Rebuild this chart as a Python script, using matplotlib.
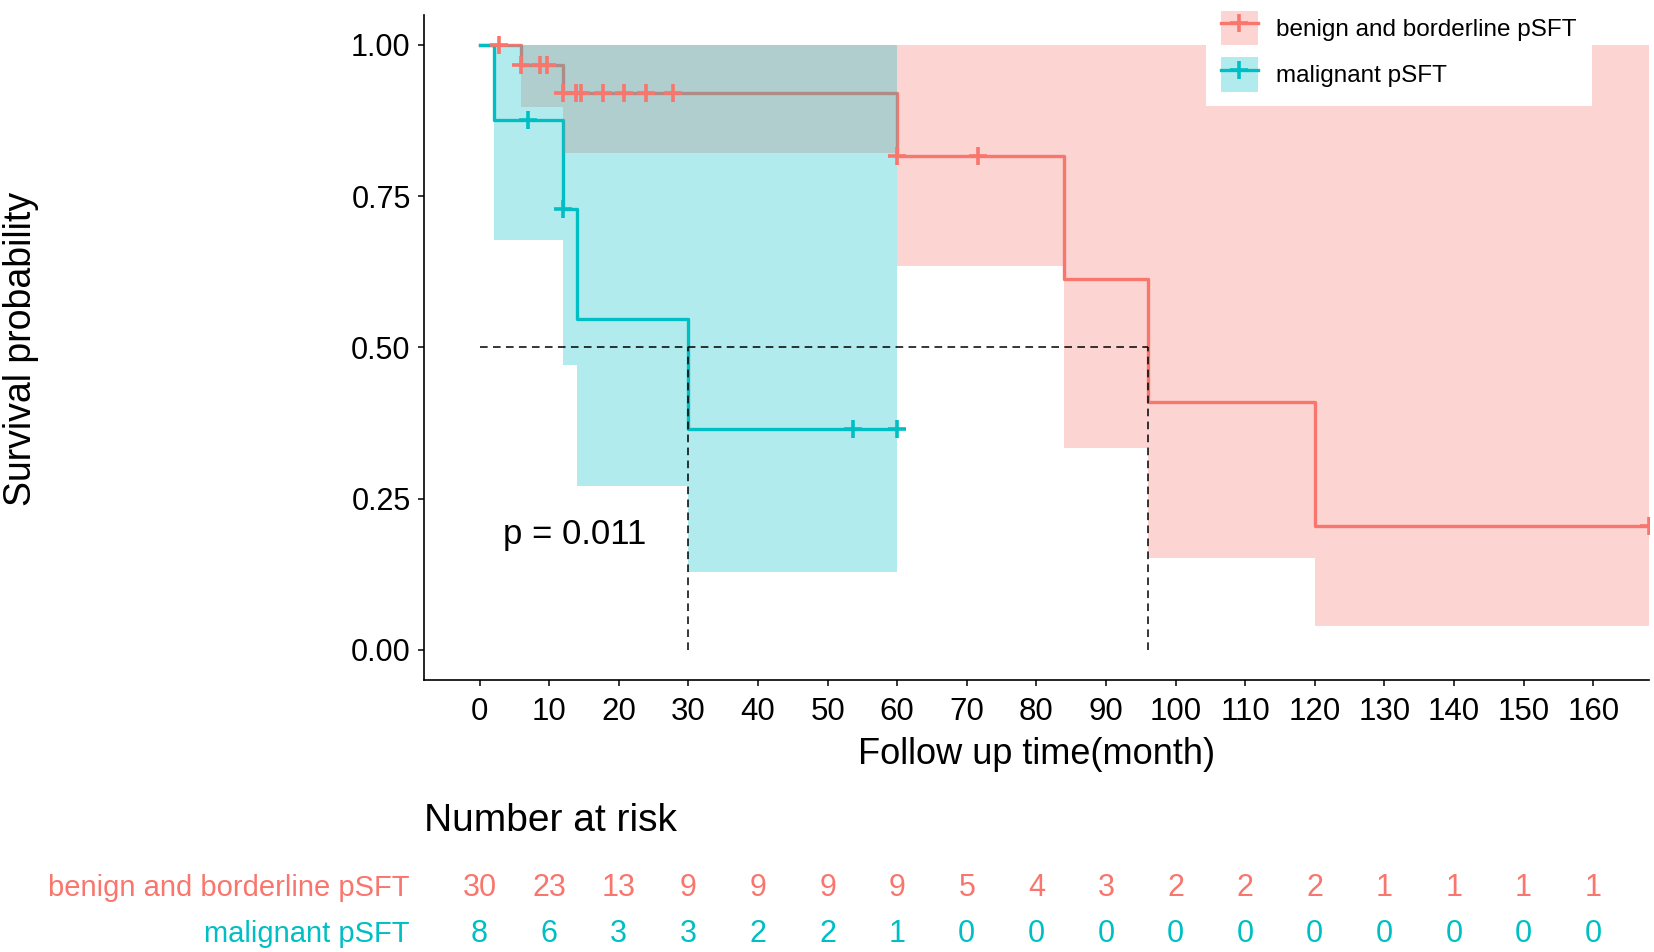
import numpy as np
import matplotlib.pyplot as plt
import matplotlib.transforms as mtransforms
from matplotlib.patches import Patch
from matplotlib.lines import Line2D
from matplotlib.legend_handler import HandlerTuple

plt.rcParams['font.family'] = ['Liberation Sans', 'DejaVu Sans']

RED = '#F8766D'
CYAN = '#00BFC4'

# Kaplan-Meier curves (time in months)
benign_time = [0, 6, 12, 60, 84, 96, 120, 168]
benign_surv = [1.0, 0.966, 0.921, 0.817, 0.613, 0.409, 0.205, 0.205]
benign_lower = [1.0, 0.897, 0.821, 0.634, 0.333, 0.152, 0.040, 0.040]
benign_upper = [1.0, 1.0, 1.0, 1.0, 1.0, 1.0, 1.0, 1.0]
benign_censor = [2.8, 6, 8.7, 9.7, 12, 13.8, 14.6, 17.8, 20.8, 23.9, 27.8, 60, 71.6, 168]

malig_time = [0, 2, 12, 14, 30, 60]
malig_surv = [1.0, 0.875, 0.729, 0.547, 0.365, 0.365]
malig_lower = [1.0, 0.678, 0.470, 0.270, 0.129, 0.129]
malig_upper = [1.0, 1.0, 1.0, 1.0, 1.0, 1.0]
malig_censor = [7, 12, 53.7, 60]

# medians
median_times = [30, 96]

# number at risk table
risk_times = list(range(0, 161, 10))
benign_risk = [30, 23, 13, 9, 9, 9, 9, 5, 4, 3, 2, 2, 2, 1, 1, 1, 1]
malig_risk = [8, 6, 3, 3, 2, 2, 1, 0, 0, 0, 0, 0, 0, 0, 0, 0, 0]

labels = ['benign and borderline pSFT', 'malignant pSFT']
pval_text = 'p = 0.011'


def step_value(times, surv, t):
    idx = np.searchsorted(times, t, side='right') - 1
    return np.asarray(surv)[idx]


fig = plt.figure(figsize=(16.54, 9.52), dpi=100)
ax = fig.add_axes([0.2563, 0.2857, 0.7406, 0.699])

groups = [
    (benign_time, benign_surv, benign_lower, benign_upper, benign_censor, RED),
    (malig_time, malig_surv, malig_lower, malig_upper, malig_censor, CYAN),
]

# lines first, then the bands over them, then censor marks
for t, s, lo, up, cens, c in groups:
    ax.step(t, s, where='post', color=c, lw=2.4, zorder=2)
for t, s, lo, up, cens, c in groups:
    ax.fill_between(t, lo, up, step='post', color=c, alpha=0.3, lw=0, zorder=3)
for t, s, lo, up, cens, c in groups:
    ax.plot(cens, step_value(t, s, cens), ls='none', marker='+', ms=13, mew=2.6,
            color=c, zorder=4)

# median lines
ax.plot([0, max(median_times)], [0.5, 0.5], color='black', lw=1.1,
        ls=(0, (5, 3.5)), zorder=5)
for m in median_times:
    ax.plot([m, m], [0, 0.5], color='black', lw=1.1, ls=(0, (5, 3.5)), zorder=5)

ax.text(3.4, 0.19, pval_text, fontsize=25, ha='left', va='center')

ax.set_xlim(-8, 168)
ax.set_ylim(-0.05, 1.05)
ax.set_xticks(risk_times)
ax.set_xticklabels([str(v) for v in risk_times], fontsize=22.5)
ax.set_yticks([0, 0.25, 0.5, 0.75, 1.0])
ax.set_yticklabels(['0.00', '0.25', '0.50', '0.75', '1.00'], fontsize=22)
for side in ['top', 'right']:
    ax.spines[side].set_visible(False)
for side in ['left', 'bottom']:
    ax.spines[side].set_linewidth(1.2)
ax.tick_params(axis='both', length=4.5, width=1.1, color='black')
ax.tick_params(axis='x', pad=8)
ax.tick_params(axis='y', pad=5)

ax.set_xlabel('Follow up time(month)', fontsize=26)
ax.xaxis.set_label_coords(0.5, -0.112)
ax.xaxis.label.set_va('center')
ax.set_ylabel('Survival probability', fontsize=27)
ax.yaxis.set_label_coords(-0.329, 0.498)
ax.yaxis.label.set_va('center')

# legend
handles = [
    (Patch(facecolor=c, alpha=0.3, lw=0),
     Line2D([], [], color=c, lw=2.4, marker='+', ms=13, mew=2.6))
    for c in [RED, CYAN]
]
leg = ax.legend(handles, labels, handler_map={tuple: HandlerTuple(ndivide=1, pad=0)},
                loc='upper left', bbox_to_anchor=(1206 / 1654, 1 + 4 / 952),
                bbox_transform=fig.transFigure, fontsize=17.5, frameon=True,
                fancybox=False, facecolor='white', edgecolor='none', framealpha=1,
                borderpad=0.6, borderaxespad=0, handlelength=1.55, handleheight=1.8,
                labelspacing=0.5, handletextpad=0.75)
leg.set_zorder(10)

# number at risk table
trans = mtransforms.blended_transform_factory(ax.transData, fig.transFigure)
fig.text(0.2563, 0.1376, 'Number at risk', fontsize=28, ha='left', va='center')
row_y = [0.0672, 0.0189]
for risk, c, lab, y in zip([benign_risk, malig_risk], [RED, CYAN], labels, row_y):
    fig.text(409 / 1654, y, lab, fontsize=21, color=c, ha='right', va='center')
    for tt, n in zip(risk_times, risk):
        ax.text(tt, y, str(n), transform=trans, fontsize=22, color=c,
                ha='center', va='center', clip_on=False)

fig.savefig('out.png', dpi=100)
